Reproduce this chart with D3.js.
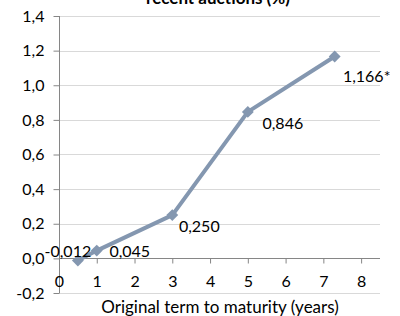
<!DOCTYPE html>
<html>
<head>
<meta charset="utf-8">
<script src="https://cdn.jsdelivr.net/npm/d3@7"></script>
<style>
  body { margin: 0; background: #fff; }
  text { font-family: Lato, "Open Sans", sans-serif; fill: #000; }
</style>
</head>
<body>
<div id="chart"></div>
<script>
// data
var terms = [0.5, 1, 3, 5, 7.3];
var yields = [-0.012, 0.045, 0.250, 0.846, 1.166];
var pointLabels = ["-0,012", "0,045", "0,250", "0,846", "1,166*"];
var xTicks = [0, 1, 2, 3, 4, 5, 6, 7, 8];
var yTicks = [-0.2, 0, 0.2, 0.4, 0.6, 0.8, 1.0, 1.2, 1.4];

var width = 400, height = 316;
var color = "#8497b0";
var font = "Lato, Open Sans, sans-serif";

var locale = d3.formatLocale({ decimal: ",", thousands: ".", grouping: [3], currency: ["", ""], minus: "-" });
var fmt1 = locale.format(".1f");

var x = d3.scaleLinear().domain([0, 8.5]).range([59, 380]);
var y = d3.scaleLinear().domain([-0.2, 1.4]).range([293, 16]);

var svg = d3.select("#chart").append("svg")
  .attr("width", width)
  .attr("height", height);

// horizontal gridlines
svg.append("g")
  .selectAll("line")
  .data(yTicks)
  .enter().append("line")
  .attr("x1", x(0))
  .attr("x2", x(8.5))
  .attr("y1", function (d) { return Math.round(y(d)) + 0.5; })
  .attr("y2", function (d) { return Math.round(y(d)) + 0.5; })
  .style("stroke", "#d9d9d9")
  .style("stroke-width", 1);

// Y axis
var yAxis = svg.append("g")
  .attr("transform", "translate(" + (x(0) + 0.5) + ",0)")
  .call(d3.axisLeft(y).tickValues(yTicks).tickFormat(fmt1).tickSize(6).tickPadding(9));
yAxis.select(".domain").attr("d", "M0," + y(1.4) + "V" + y(-0.2)).style("stroke", "#868686");
yAxis.selectAll(".tick line").style("stroke", "#868686");
yAxis.selectAll(".tick text")
  .style("font-family", font)
  .style("font-size", "16px");

// X axis at zero
var xAxis = svg.append("g")
  .attr("transform", "translate(0," + (Math.round(y(0)) + 0.5) + ")")
  .call(d3.axisBottom(x).tickValues(xTicks).tickFormat(d3.format("d")).tickSize(5).tickPadding(12));
xAxis.select(".domain").attr("d", "M" + x(0) + ",0H" + x(8.5)).style("stroke", "#868686");
xAxis.selectAll(".tick line").style("stroke", "#868686");
xAxis.selectAll(".tick text")
  .style("font-family", font)
  .style("font-size", "16px");

// series line
var pts = terms.map(function (t, i) { return { t: t, v: yields[i], lab: pointLabels[i] }; });
var line = d3.line()
  .x(function (d) { return x(d.t); })
  .y(function (d) { return y(d.v); });

svg.append("path")
  .datum(pts)
  .attr("d", line)
  .style("fill", "none")
  .style("stroke", color)
  .style("stroke-width", 4)
  .style("stroke-linejoin", "round");

// diamond markers
svg.selectAll(".marker")
  .data(pts)
  .enter().append("path")
  .attr("class", "marker")
  .attr("transform", function (d) { return "translate(" + x(d.t) + "," + y(d.v) + ")"; })
  .attr("d", d3.symbol().type(d3.symbolDiamond2).size(90))
  .style("fill", color);

// data labels
var labelOffsets = [[-10, -9], [33, 1], [27, 11], [35, 11], [32, 20]];
svg.selectAll(".dlabel")
  .data(pts)
  .enter().append("text")
  .attr("class", "dlabel")
  .attr("x", function (d, i) { return x(d.t) + labelOffsets[i][0]; })
  .attr("y", function (d, i) { return y(d.v) + labelOffsets[i][1]; })
  .attr("dy", "0.35em")
  .style("text-anchor", "middle")
  .style("font-size", "16px")
  .text(function (d) { return d.lab; });

// titles
svg.append("text")
  .attr("x", 218)
  .attr("y", 4)
  .style("text-anchor", "middle")
  .style("font-size", "17px")
  .style("font-weight", "bold")
  .text("recent auctions (%)");

svg.append("text")
  .attr("x", 220)
  .attr("y", 307)
  .attr("dy", "0.35em")
  .style("text-anchor", "middle")
  .style("font-size", "17px")
  .text("Original term to maturity (years)");
</script>
</body>
</html>
